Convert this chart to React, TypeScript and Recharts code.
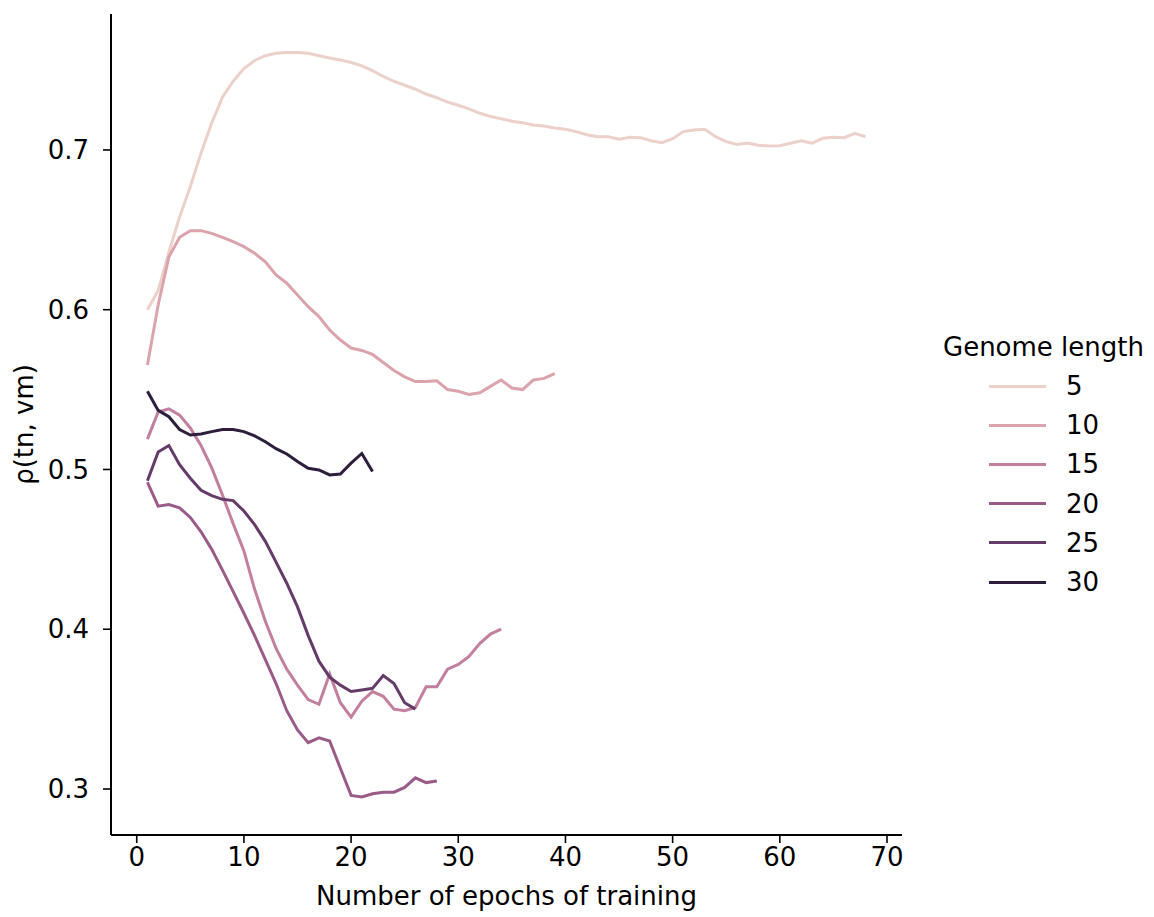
import React from "react";
import { Line, LineChart, XAxis, YAxis } from "recharts";

// epochs of training (x values)
const epochs = [
  1, 2, 3, 4, 5, 6, 7, 8, 9, 10, 11, 12, 13, 14, 15, 16, 17, 18, 19, 20, 21,
  22, 23, 24, 25, 26, 27, 28, 29, 30, 31, 32, 33, 34, 35, 36, 37, 38, 39, 40,
  41, 42, 43, 44, 45, 46, 47, 48, 49, 50, 51, 52, 53, 54, 55, 56, 57, 58, 59,
  60, 61, 62, 63, 64, 65, 66, 67, 68,
];

// rho(tn, vm) per genome length
const rho5 = [
  0.6, 0.612, 0.636, 0.658, 0.677, 0.698, 0.717, 0.733, 0.743, 0.751, 0.756,
  0.759, 0.7605, 0.761, 0.761, 0.7605, 0.759, 0.7576, 0.7563, 0.7547, 0.7526,
  0.7496, 0.746, 0.743, 0.7405, 0.738, 0.735, 0.7327, 0.73, 0.728, 0.7257,
  0.723, 0.721, 0.7195, 0.718, 0.717, 0.7156, 0.715, 0.7138, 0.713, 0.7115,
  0.7095, 0.7083, 0.7083, 0.7067, 0.708, 0.7077, 0.7058, 0.7046, 0.707, 0.7115,
  0.7125, 0.713, 0.7083, 0.7052, 0.7035, 0.7044, 0.703, 0.7025, 0.7027, 0.7042,
  0.7058, 0.7042, 0.7073, 0.708, 0.7077, 0.7104, 0.7083,
];
const rho10 = [
  0.5654, 0.603, 0.633, 0.6453, 0.6495, 0.6495, 0.6478, 0.6453, 0.6426, 0.6395,
  0.6353, 0.63, 0.6218, 0.6166, 0.6092, 0.6019, 0.5957, 0.5873, 0.581, 0.576,
  0.5745, 0.572, 0.567, 0.562, 0.558, 0.555, 0.555, 0.5555, 0.55, 0.549, 0.547,
  0.548, 0.552, 0.556, 0.551, 0.55, 0.556, 0.557, 0.56,
];
const rho15 = [
  0.519, 0.536, 0.538, 0.534, 0.526, 0.515, 0.501, 0.484, 0.466, 0.449, 0.425,
  0.405, 0.388, 0.375, 0.365, 0.356, 0.353, 0.372, 0.354, 0.345, 0.355, 0.361,
  0.358, 0.35, 0.349, 0.351, 0.364, 0.364, 0.375, 0.378, 0.383, 0.391, 0.397,
  0.4,
];
const rho20 = [
  0.492, 0.477, 0.478, 0.476, 0.47, 0.461, 0.45, 0.437, 0.4235, 0.41, 0.396,
  0.381, 0.366, 0.349, 0.337, 0.329, 0.332, 0.33, 0.313, 0.296, 0.295, 0.297,
  0.298, 0.298, 0.301, 0.307, 0.304, 0.305,
];
const rho25 = [
  0.493, 0.511, 0.515, 0.503, 0.4945, 0.487, 0.4836, 0.4813, 0.4805, 0.474,
  0.4655, 0.455, 0.442, 0.4288, 0.414, 0.396, 0.38, 0.37, 0.365, 0.361, 0.362,
  0.363, 0.371, 0.366, 0.354, 0.35,
];
const rho30 = [
  0.549, 0.537, 0.533, 0.525, 0.5216, 0.5222, 0.5237, 0.525, 0.525, 0.5237,
  0.521, 0.5174, 0.513, 0.5097, 0.505, 0.5007, 0.4997, 0.4966, 0.4972, 0.504,
  0.51, 0.4987,
];

const lengths = [5, 10, 15, 20, 25, 30];
const values = [rho5, rho10, rho15, rho20, rho25, rho30];
const colors = ["#ecd0ca", "#dba3ac", "#c27f9e", "#9a5b88", "#643b69", "#2d1e3e"];

const xTicks = [0, 10, 20, 30, 40, 50, 60, 70];
const yTicks = [0.3, 0.4, 0.5, 0.6, 0.7];

const FONT = "'DejaVu Sans', sans-serif";
const FS = 26;

const series = lengths.map((len, i) => ({
  len,
  color: colors[i],
  data: values[i].map((v, j) => ({ epoch: epochs[j], rho: v })),
}));

export default function App() {
  return (
    <div
      style={{
        position: "absolute",
        left: 0,
        top: 0,
        width: 1154,
        height: 917,
        background: "#fff",
        fontFamily: FONT,
      }}
    >
      <LineChart
        width={1154}
        height={917}
        margin={{ top: 14, right: 252, bottom: 0, left: 0 }}
      >
        <XAxis
          type="number"
          dataKey="epoch"
          domain={[-2.4, 71.4]}
          ticks={xTicks}
          allowDataOverflow
          height={82}
          tickSize={8}
          tickMargin={5}
          axisLine={{ stroke: "#000", strokeWidth: 2 }}
          tickLine={{ stroke: "#000", strokeWidth: 1.6 }}
          tick={{ fill: "#000", fontSize: FS, fontFamily: FONT }}
          label={{
            value: "Number of epochs of training",
            position: "insideBottom",
            offset: 12,
            fill: "#000",
            fontSize: FS,
            fontFamily: FONT,
          }}
        />
        <YAxis
          type="number"
          dataKey="rho"
          domain={[0.2712, 0.7851]}
          ticks={yTicks}
          allowDataOverflow
          width={111}
          tickSize={8}
          tickMargin={14}
          tickFormatter={(v: number) => v.toFixed(1)}
          axisLine={{ stroke: "#000", strokeWidth: 2 }}
          tickLine={{ stroke: "#000", strokeWidth: 1.6 }}
          tick={{ fill: "#000", fontSize: FS, fontFamily: FONT }}
          label={{
            value: "ρ(tn, vm)",
            angle: -90,
            position: "insideLeft",
            offset: 24,
            style: { textAnchor: "middle" },
            fill: "#000",
            fontSize: FS,
            fontFamily: FONT,
          }}
        />
        {series.map((s) => (
          <Line
            key={s.len}
            data={s.data}
            dataKey="rho"
            type="linear"
            stroke={s.color}
            strokeWidth={3}
            dot={false}
            activeDot={false}
            isAnimationActive={false}
          />
        ))}
      </LineChart>

      <div
        style={{
          position: "absolute",
          left: 943,
          top: 331,
          fontSize: FS,
          lineHeight: "32px",
          color: "#000",
          whiteSpace: "nowrap",
        }}
      >
        Genome length
      </div>
      {series.map((s, i) => (
        <div
          key={s.len}
          style={{
            position: "absolute",
            left: 989,
            top: 386 + i * 39.2 - 16,
            height: 32,
            display: "flex",
            alignItems: "center",
            fontSize: FS,
            color: "#000",
          }}
        >
          <div style={{ width: 57, height: 3, background: s.color }} />
          <span style={{ marginLeft: 20 }}>{s.len}</span>
        </div>
      ))}
    </div>
  );
}
